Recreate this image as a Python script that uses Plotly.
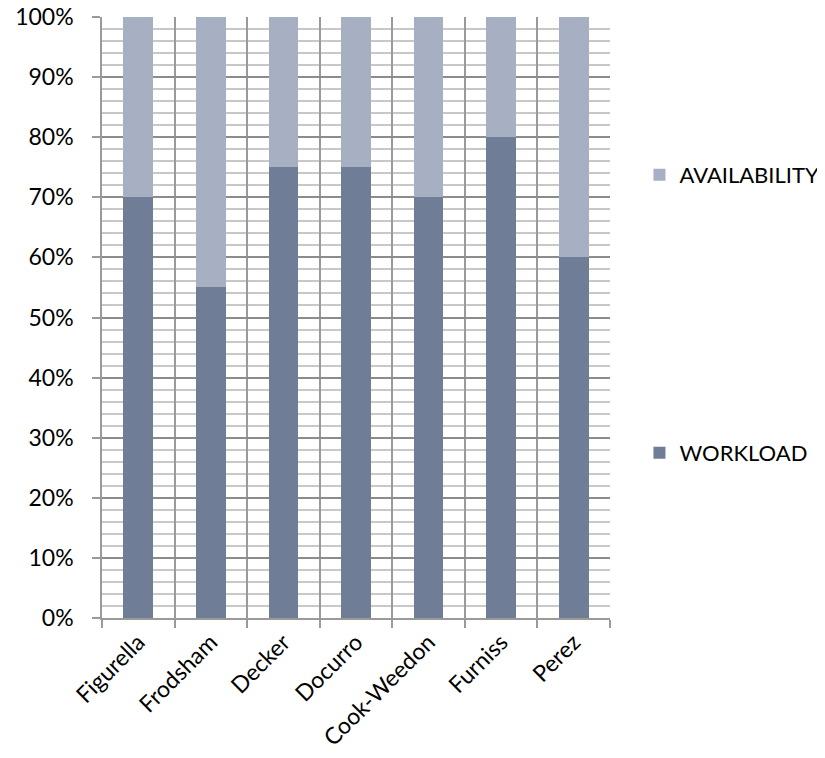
import plotly.graph_objects as go

categories = ["Figurella", "Frodsham", "Decker", "Docurro", "Cook-Weedon", "Furniss", "Perez"]
workload = [0.70, 0.55, 0.75, 0.75, 0.70, 0.80, 0.60]
availability = [0.30, 0.45, 0.25, 0.25, 0.30, 0.20, 0.40]
y_ticks = [0, 0.1, 0.2, 0.3, 0.4, 0.5, 0.6, 0.7, 0.8, 0.9, 1.0]
y_labels = ["0%", "10%", "20%", "30%", "40%", "50%", "60%", "70%", "80%", "90%", "100%"]

FONT = "Lato"
FS = 23
fig = go.Figure()
fig.add_trace(go.Bar(x=categories, y=workload, name="WORKLOAD",
                     marker=dict(color="#6F7E96", line=dict(width=0)), legend="legend"))
fig.add_trace(go.Bar(x=categories, y=availability, name="AVAILABILITY",
                     marker=dict(color="#A7B0C3", line=dict(width=0)), legend="legend2"))

fig.update_layout(
    width=817, height=750,
    margin=dict(l=94, r=215, t=9, b=140, autoexpand=False),
    barmode="stack", bargap=0.59,
    plot_bgcolor="white", paper_bgcolor="white",
    font=dict(family=FONT, size=FS, color="black"),
    legend=dict(x=1.058, y=0.2745, xanchor="left", yanchor="middle",
                font=dict(size=22), itemwidth=30, bgcolor="rgba(0,0,0,0)"),
    legend2=dict(x=1.058, y=0.737, xanchor="left", yanchor="middle",
                 font=dict(size=22), itemwidth=30, bgcolor="rgba(0,0,0,0)"),
    showlegend=True,
)
fig.update_xaxes(
    type="category", tickson="boundaries", tickangle=-45, automargin=False,
    ticklabeloverflow="allow",
    showgrid=True, gridcolor="#9A9A9A", gridwidth=1.5,
    showline=True, linecolor="#9A9A9A", linewidth=1.5,
    ticks="outside", ticklen=8, tickcolor="#9A9A9A", tickwidth=1.5,
    tickfont=dict(family=FONT, size=FS),
)
fig.update_yaxes(
    range=[0, 1], tickvals=y_ticks, ticktext=y_labels, automargin=False,
    ticklabeloverflow="allow",
    showgrid=True, gridcolor="#8C8C8C", gridwidth=1.5,
    showline=True, linecolor="#9A9A9A", linewidth=1.5,
    ticks="outside", ticklen=8, tickcolor="#9A9A9A", tickwidth=1.5,
    ticklabelstandoff=14,
    minor=dict(dtick=0.02, showgrid=True, gridcolor="#C8C8C8", gridwidth=1.5, ticks=""),
    zeroline=False,
    tickfont=dict(family=FONT, size=FS),
)
fig.write_html("out.html")
